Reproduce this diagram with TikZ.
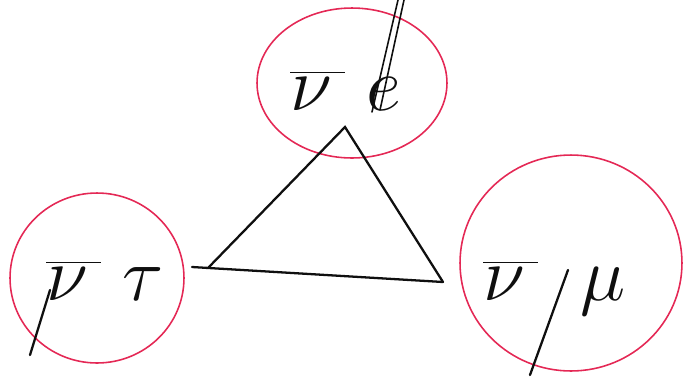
\documentclass[tikz,border=0pt]{standalone}
\usetikzlibrary{shapes.geometric}
\definecolor{ink}{RGB}{15,15,15}
\definecolor{redink}{RGB}{228,40,85}
\newcommand{\biglbl}[1]{\scalebox{1.75}{\Huge$#1$}}
\newcommand{\nubar}{\overline{\nu\,}}
\begin{document}
\begin{tikzpicture}[x=0.02cm,y=-0.02cm,
  ring/.style={draw=redink,line width=0.9pt,ellipse,inner sep=0pt},
  lbl/.style={anchor=base west,inner sep=0pt,text=ink},
  edge/.style={draw=ink,line width=1.3pt,line cap=round},
  stroke/.style={draw=ink,line width=1.3pt,line cap=round}]
\useasboundingbox (0,0) rectangle (684,380);
% circles
\node[ring,minimum width=3.8cm,minimum height=3.0cm] (ce) at (352,83) {};
\node[ring,minimum width=3.48cm,minimum height=3.4cm] (ct) at (97,278) {};
\node[ring,minimum width=4.44cm,minimum height=4.32cm] (cm) at (571,263) {};
% labels
\node[lbl] (le) at (290,110) {\biglbl{\nubar\;e}};
\node[lbl] (lt) at (46,300) {\biglbl{\nubar\;\tau}};
\node[lbl] (lm) at (483,300) {\biglbl{\nubar\;\;\mu}};
% triangle
\coordinate (top) at (345,127);
\coordinate (bl) at (208,268);
\coordinate (br) at (443,282);
\coordinate (bll) at (192,267);
\draw[edge] (bl) -- (top) -- (br);
\draw[edge] (bll) -- (br);
% extra handwriting strokes
\coordinate (s1a) at (372,112); \coordinate (s1b) at (398,0);
\coordinate (s2a) at (380,110); \coordinate (s2b) at (404,0);
\draw[stroke,line width=0.9pt] (s1a) -- (s1b);
\draw[stroke,line width=0.9pt] (s2a) -- (s2b);
\coordinate (s3a) at (50,290); \coordinate (s3b) at (30,355);
\draw[stroke] (s3a) -- (s3b);
\coordinate (s4a) at (568,270); \coordinate (s4b) at (530,375);
\draw[stroke] (s4a) -- (s4b);
\end{tikzpicture}
\end{document}
